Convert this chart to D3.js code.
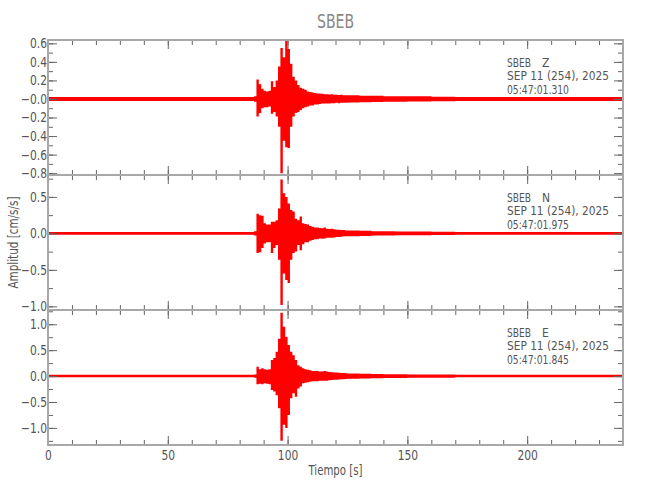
<!DOCTYPE html>
<html>
<head>
<meta charset="utf-8">
<script src="https://cdn.jsdelivr.net/npm/d3@7"></script>
<style>
  body { margin: 0; background: #fff; }
  text { font-family: "Liberation Sans Narrow", "DejaVu Sans Condensed", "Liberation Sans", sans-serif; }
</style>
</head>
<body>
<svg id="chart" width="650" height="500"></svg>
<script>
// =======================
// SEISMOGRAM - station SBEB, three components
// waveform kept as min/max envelope per time bin
// =======================

const station = "SBEB";
const components = ["Z", "N", "E"];
const dateLine = "SEP 11 (254), 2025";
const startTimes = ["05:47:01.310", "05:47:01.975", "05:47:01.845"];

// bin start times [s]; the last bin runs to recordEnd
const binStart = [0,
  86, 87, 88, 89, 90, 91, 92, 93, 94, 95, 96, 97, 98, 99, 100, 101, 102, 103, 104, 105,
  106, 107, 108, 109, 110, 111, 112, 113, 114, 115, 116, 117, 118, 119, 120, 121, 122, 123, 124, 125,
  130, 135, 140, 145, 150, 160, 170];
const recordEnd = 240;

// Z component
const zTop = [0.022,
  0.03, 0.21, 0.16, 0.11, 0.09, 0.08, 0.09, 0.19, 0.13, 0.20, 0.35, 0.55, 0.45, 0.63, 0.54, 0.38, 0.24, 0.20, 0.15, 0.12,
  0.11, 0.10, 0.08, 0.075, 0.07, 0.065, 0.06, 0.06, 0.055, 0.05, 0.05, 0.048, 0.05, 0.045, 0.045, 0.042, 0.045, 0.04, 0.04, 0.04,
  0.035, 0.035, 0.03, 0.03, 0.028, 0.025, 0.022];
const zBot = [-0.022,
  -0.03, -0.19, -0.15, -0.10, -0.09, -0.09, -0.08, -0.16, -0.14, -0.19, -0.30, -0.80, -0.45, -0.52, -0.53, -0.30, -0.19, -0.15, -0.14, -0.12,
  -0.10, -0.09, -0.08, -0.07, -0.07, -0.06, -0.06, -0.055, -0.05, -0.05, -0.048, -0.05, -0.045, -0.045, -0.042, -0.045, -0.04, -0.04, -0.04, -0.038,
  -0.035, -0.032, -0.03, -0.03, -0.027, -0.025, -0.022];

// N component
const nTop = [0.02,
  0.03, 0.27, 0.25, 0.24, 0.14, 0.12, 0.12, 0.16, 0.16, 0.18, 0.34, 0.74, 0.55, 0.50, 0.41, 0.32, 0.30, 0.20, 0.18, 0.23,
  0.14, 0.13, 0.12, 0.10, 0.09, 0.08, 0.08, 0.075, 0.07, 0.08, 0.065, 0.06, 0.065, 0.055, 0.05, 0.05, 0.045, 0.045, 0.04, 0.04,
  0.035, 0.03, 0.03, 0.025, 0.025, 0.022, 0.02];
const nBot = [-0.02,
  -0.03, -0.27, -0.26, -0.20, -0.14, -0.12, -0.12, -0.27, -0.20, -0.16, -0.36, -0.98, -0.55, -0.64, -0.68, -0.36, -0.27, -0.25, -0.16, -0.23,
  -0.15, -0.12, -0.12, -0.10, -0.09, -0.08, -0.08, -0.07, -0.075, -0.07, -0.06, -0.06, -0.06, -0.055, -0.05, -0.05, -0.045, -0.04, -0.04, -0.04,
  -0.035, -0.03, -0.028, -0.025, -0.025, -0.022, -0.02];

// E component
const eTop = [0.025,
  0.03, 0.18, 0.13, 0.15, 0.13, 0.12, 0.13, 0.31, 0.35, 0.47, 0.72, 1.22, 0.95, 0.76, 0.60, 0.47, 0.40, 0.31, 0.21, 0.18,
  0.15, 0.13, 0.12, 0.11, 0.10, 0.10, 0.10, 0.09, 0.09, 0.10, 0.09, 0.08, 0.075, 0.07, 0.07, 0.065, 0.06, 0.06, 0.055, 0.05,
  0.045, 0.04, 0.035, 0.035, 0.03, 0.03, 0.025];
const eBot = [-0.025,
  -0.03, -0.16, -0.15, -0.16, -0.14, -0.15, -0.16, -0.27, -0.30, -0.37, -0.62, -1.25, -0.94, -1.00, -0.75, -0.43, -0.33, -0.40, -0.24, -0.20,
  -0.14, -0.13, -0.12, -0.11, -0.10, -0.10, -0.10, -0.09, -0.09, -0.09, -0.09, -0.08, -0.075, -0.07, -0.07, -0.065, -0.06, -0.06, -0.055, -0.05,
  -0.045, -0.04, -0.035, -0.035, -0.03, -0.03, -0.025];

// y ranges of each panel
const yDomains = [[-0.82, 0.636], [-1.05, 0.80], [-1.33, 1.275]];

// tick values / labels
const xMajorTicks = [0, 50, 100, 150, 200];
const xMinorTicks = d3.range(0, 241, 10);
const yMajorTicks = [
  [-0.8, -0.6, -0.4, -0.2, 0, 0.2, 0.4, 0.6],
  [-1.0, -0.5, 0, 0.5],
  [-1.0, -0.5, 0, 0.5, 1.0]];
const yTickLabels = [
  ["\u22120.8", "\u22120.6", "\u22120.4", "\u22120.2", "\u22120.0", "0.2", "0.4", "0.6"],
  ["\u22121.0", "\u22120.5", "0.0", "0.5"],
  ["\u22121.0", "\u22120.5", "0.0", "0.5", "1.0"]];
const yMinorTicks = [
  [-0.8, -0.7, -0.6, -0.5, -0.4, -0.3, -0.2, -0.1, 0, 0.1, 0.2, 0.3, 0.4, 0.5, 0.6],
  [-1.0, -0.75, -0.5, -0.25, 0, 0.25, 0.5, 0.75],
  [-1.25, -1.0, -0.75, -0.5, -0.25, 0, 0.25, 0.5, 0.75, 1.0, 1.25]];

const traces = [[zTop, zBot], [nTop, nBot], [eTop, eBot]];

// ----- layout -----
const left = 48, right = 623, top0 = 40, panelH = 135;
const majorLen = 9, minorLen = 5;
const axisColor = "#a8a8a8", tickColor = "#666", textColor = "#555";

const svg = d3.select("#chart");

const x = d3.scaleLinear().domain([0, recordEnd]).range([left, right]);

// narrow the (wide) fallback font to the reference's text widths
function squeeze(sel, f) {
  sel.each(function () {
    const w = this.getComputedTextLength();
    d3.select(this).attr("textLength", w * f).attr("lengthAdjust", "spacingAndGlyphs");
  });
}

// title
svg.append("text")
  .attr("x", (left + right) / 2)
  .attr("y", 28)
  .attr("text-anchor", "middle")
  .style("font-size", "20px")
  .style("fill", "#888")
  .text(station)
  .call(squeeze, 0.78);

components.forEach((comp, p) => {
  const top = top0 + p * panelH;
  const bottom = top + panelH;
  const y = d3.scaleLinear().domain(yDomains[p]).range([bottom, top]);

  const g = svg.append("g");

  // clip
  svg.append("clipPath").attr("id", "clip" + p)
    .append("rect")
      .attr("x", left).attr("y", top)
      .attr("width", right - left).attr("height", panelH);

  // waveform envelope
  const [tops, bots] = traces[p];
  const pts = binStart.map((t, i) => ({ t: t, hi: tops[i], lo: bots[i] }));
  pts.push({ t: recordEnd, hi: tops[tops.length - 1], lo: bots[bots.length - 1] });

  const area = d3.area()
    .curve(d3.curveStepAfter)
    .x(d => x(d.t))
    .y0(d => y(d.lo))
    .y1(d => y(d.hi));

  g.append("path")
    .datum(pts)
    .attr("clip-path", `url(#clip${p})`)
    .attr("d", area)
    .attr("fill", "#ff0000");

  // ticks: top / bottom
  const addX = (axisFn, ypos, vals, len, labels) => {
    const ax = axisFn(x).tickValues(vals).tickSizeInner(-len).tickSizeOuter(0)
      .tickPadding(5)
      .tickFormat(labels ? d3.format("d") : "");
    const a = g.append("g")
      .attr("transform", `translate(0,${ypos})`)
      .style("color", tickColor)
      .call(ax);
    a.select(".domain").remove();
    a.attr("font-family", null);
    a.selectAll("text")
      .style("font-size", "14px")
      .style("fill", textColor);
    a.selectAll("text").call(squeeze, 0.85);
  };
  const isBottom = p === components.length - 1;
  addX(d3.axisTop, top, xMinorTicks, minorLen, false);
  addX(d3.axisTop, top, xMajorTicks, majorLen, false);
  addX(d3.axisBottom, bottom, xMinorTicks, minorLen, false);
  addX(d3.axisBottom, bottom, xMajorTicks, majorLen, isBottom);

  // ticks: left / right
  const addY = (axisFn, xpos, vals, len, labels) => {
    const ax = axisFn(y).tickValues(vals).tickSizeInner(-len).tickSizeOuter(0)
      .tickPadding(1)
      .tickFormat(labels ? ((d, i) => labels[i]) : "");
    const a = g.append("g")
      .attr("transform", `translate(${xpos},0)`)
      .style("color", tickColor)
      .call(ax);
    a.select(".domain").remove();
    a.attr("font-family", null);
    a.selectAll("text")
      .style("font-size", "14px")
      .style("fill", textColor);
    a.selectAll("text").call(squeeze, 0.85);
  };
  addY(d3.axisLeft, left, yMinorTicks[p], minorLen, null);
  addY(d3.axisLeft, left, yMajorTicks[p], majorLen, yTickLabels[p]);
  addY(d3.axisRight, right, yMinorTicks[p], minorLen, null);
  addY(d3.axisRight, right, yMajorTicks[p], majorLen, null);

  // frame
  g.append("rect")
    .attr("x", left).attr("y", top)
    .attr("width", right - left).attr("height", panelH)
    .attr("fill", "none")
    .attr("stroke", axisColor)
    .attr("stroke-width", 2);

  // station header
  const txt = g.append("g").style("font-size", "12px").style("fill", textColor);
  txt.append("text").attr("x", 507).attr("y", top + 26.5).text(station).attr("textLength", 24).attr("lengthAdjust", "spacingAndGlyphs");
  txt.append("text").attr("x", 542).attr("y", top + 26.5).text(comp);
  txt.append("text").attr("x", 507).attr("y", top + 40).text(dateLine).attr("textLength", 102).attr("lengthAdjust", "spacingAndGlyphs");
  txt.append("text").attr("x", 507).attr("y", top + 53.5).text(startTimes[p]).attr("textLength", 62).attr("lengthAdjust", "spacingAndGlyphs");
});

// axis titles
svg.append("text")
  .attr("transform", `translate(18,${top0 + 1.5 * panelH}) rotate(-90)`)
  .attr("text-anchor", "middle")
  .style("font-size", "14px")
  .style("fill", textColor)
  .text("Amplitud [cm/s/s]")
  .attr("textLength", 92).attr("lengthAdjust", "spacingAndGlyphs");

svg.append("text")
  .attr("x", (left + right) / 2)
  .attr("y", 475)
  .attr("text-anchor", "middle")
  .style("font-size", "14px")
  .style("fill", textColor)
  .text("Tiempo [s]")
  .attr("textLength", 54).attr("lengthAdjust", "spacingAndGlyphs");
</script>
</body>
</html>
